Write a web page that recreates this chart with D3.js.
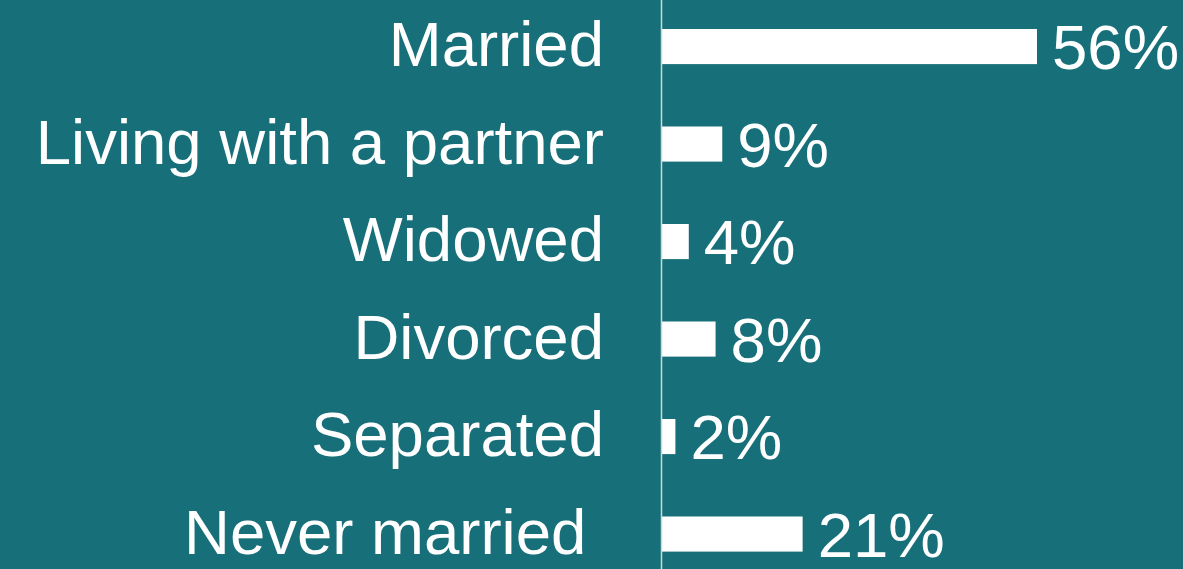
<!DOCTYPE html>
<html lang="en">
  <head>
    <meta charset="UTF-8" />
    <title>Marital status</title>
    <script src="https://d3js.org/d3.v7.min.js"></script>
    <style>
      body { margin: 0; background: #177079; }
      text { font-family: "Liberation Sans", Arial, sans-serif; fill: #fff; }
    </style>
  </head>
  <body>
    <svg id="chart" width="1183" height="569"></svg>
    <script>
      const categories = ["Married", "Living with a partner", "Widowed", "Divorced", "Separated", "Never married "];
      const values = [56, 9, 4, 8, 2, 21];

      const svg = d3.select("#chart");
      const W = +svg.attr("width"), H = +svg.attr("height");

      svg.append("rect").attr("width", W).attr("height", H).attr("fill", "#177079");

      const axisX = 662;
      const x = d3.scaleLinear().domain([0, 56]).range([axisX, 1037]);
      const y = d3.scaleBand()
        .domain(categories)
        .range([-2.2, 582.8])
        .paddingInner(0.64)
        .paddingOuter(0.32);

      const data = categories.map((c, i) => ({ cat: c, val: values[i] }));

      // bars
      svg.selectAll(".bar")
        .data(data)
        .enter()
        .append("rect")
        .attr("class", "bar")
        .attr("x", x(0))
        .attr("y", d => y(d.cat))
        .attr("width", d => x(d.val) - x(0))
        .attr("height", y.bandwidth())
        .attr("fill", "#fff");

      // vertical axis line
      svg.append("line")
        .attr("x1", axisX - 0.5).attr("x2", axisX - 0.5)
        .attr("y1", 0).attr("y2", H)
        .attr("stroke", "#c9d9db")
        .attr("stroke-width", 1.5);

      // category labels
      svg.selectAll(".cat")
        .data(data)
        .enter()
        .append("text")
        .attr("class", "cat")
        .attr("x", 604)
        .attr("y", d => y(d.cat) + y.bandwidth() / 2)
        .attr("dy", "0.31em")
        .attr("text-anchor", "end")
        .style("white-space", "pre")
        .attr("font-size", 63.5)
        .text(d => d.cat);

      // value labels
      svg.selectAll(".val")
        .data(data)
        .enter()
        .append("text")
        .attr("class", "val")
        .attr("x", d => x(d.val) + 15)
        .attr("y", d => y(d.cat) + y.bandwidth() / 2)
        .attr("dy", "0.36em")
        .attr("font-size", 63.5)
        .text(d => d.val + "%");
    </script>
  </body>
</html>
